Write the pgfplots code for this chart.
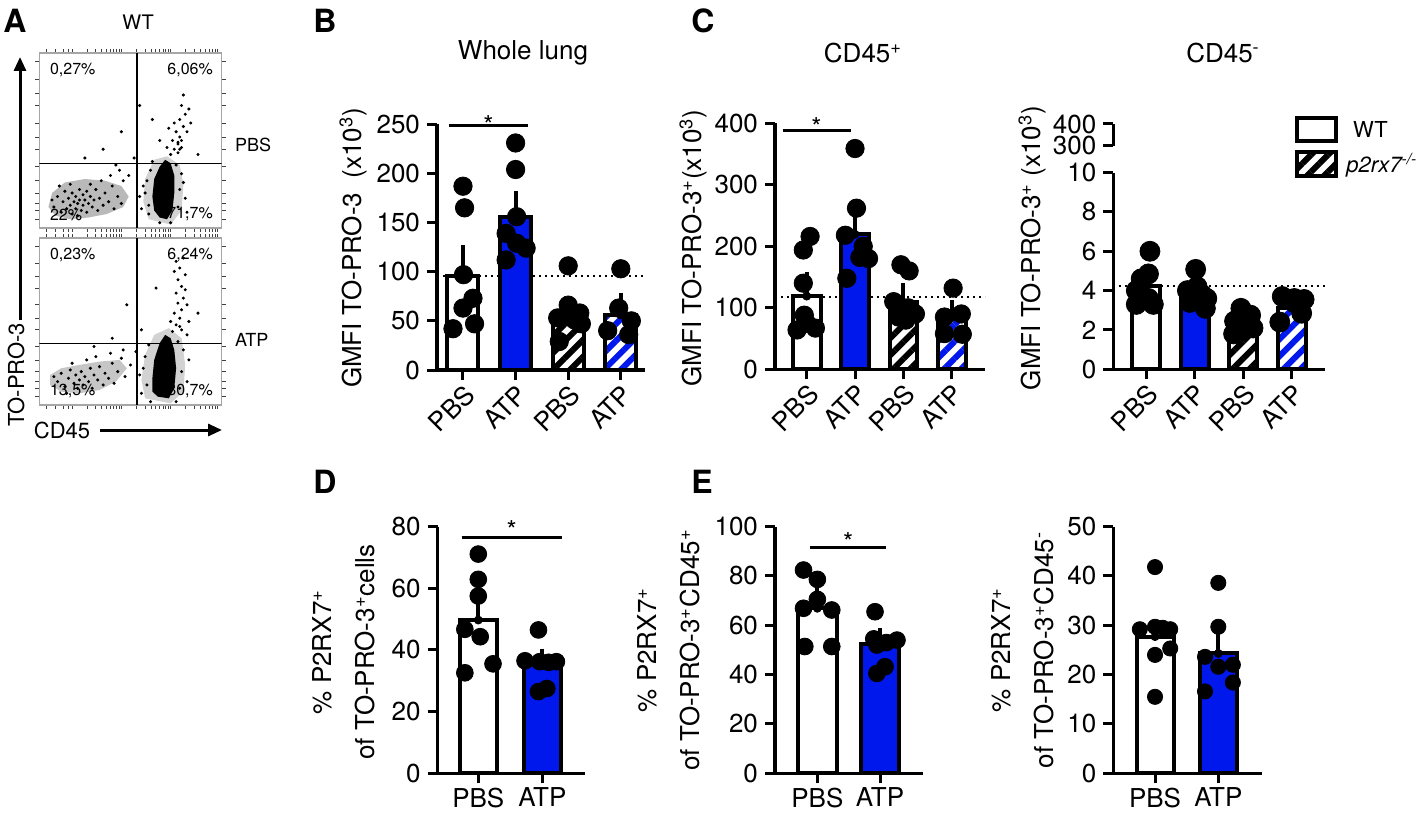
\documentclass[border=0pt]{standalone}
\usepackage{pgfplots}
\pgfplotsset{compat=1.18}
\usepackage{fontspec}
\setmainfont{TeX Gyre Heros}
\usetikzlibrary{patterns.meta,arrows.meta}
\definecolor{pblue}{RGB}{0,24,235}
\newcommand\tf{\fontsize{13}{15.6}\selectfont}
\newcommand\ff{\fontsize{8}{9}\selectfont}

\pgfplotsset{
  prism/.style={
    scale only axis, anchor=south west, clip=false,
    axis lines*=left, axis line style={line width=1.6pt, black},
    tick align=outside, major tick length=5pt,
    every tick/.style={line width=1.5pt, black},
    tick label style={font=\tf},
    /pgf/number format/assume math mode=true,
    ymin=0,
  },
  four/.style={xtick={0,1,2,3}, xticklabels={PBS,ATP,PBS,ATP},
    xticklabel style={rotate=45, anchor=north east, inner sep=1pt}},
  two/.style={xtick={0,1}, xticklabels={PBS,ATP},
    xticklabel style={anchor=north, inner sep=2pt}},
  wbar/.style={ybar, bar shift=0pt, draw=black, line width=2pt, fill=white},
  bbar/.style={ybar, bar shift=0pt, draw=black, line width=2pt, fill=pblue},
  hkbar/.style={ybar, bar shift=0pt, draw=black, line width=2pt, preaction={fill=white},
    pattern={Lines[angle=45,distance=6pt,line width=3pt]}, pattern color=black},
  hbbar/.style={ybar, bar shift=0pt, draw=black, line width=2pt, preaction={fill=white},
    pattern={Lines[angle=45,distance=6pt,line width=3pt]}, pattern color=pblue},
  eb/.style={black, only marks, mark=none, forget plot,
    error bars/.cd, y dir=plus, y explicit,
    error bar style={draw=black, line width=2pt},
    error mark options={draw=black, line width=2pt, mark size=4.5pt}},
  dots/.style={only marks, mark=*, mark options={fill=black, draw=black}},
  refl/.style={black, line width=0.9pt, dash pattern=on 0.9pt off 2.1pt},
  sig/.style={black, line width=1.5pt},
  flow/.style={scale only axis, anchor=south west, xmin=0, xmax=1, ymin=0, ymax=1,
    axis line style={gray!70, line width=0.6pt},
    xtick={0.04,0.09,0.13,0.16,0.18,0.261,0.309,0.343,0.369,0.39,0.408,0.424,0.438,0.45,0.531,0.579,0.613,0.639,0.66,0.678,0.694,0.708,0.72,0.801,0.849,0.883,0.909,0.93,0.948,0.964,0.978},
    ytick={0.05,0.1,0.14,0.2,0.27,0.35,0.45,0.52,0.6,0.7,0.77,0.85,0.95},
    xticklabels={}, yticklabels={}, tick align=outside, major tick length=2pt,
    every tick/.style={gray!50!black, line width=0.4pt}},
  fpts/.style={only marks, mark=*, mark size=0.55pt, black},
}

\begin{document}
\begin{tikzpicture}
\useasboundingbox (0,0) rectangle (708.5pt,410.5pt);

% ---------------- Panel A ----------------
\node[font=\bfseries\fontsize{16}{18}\selectfont] at (7.5pt,400pt) {A};
\node[font=\fontsize{10}{12}\selectfont] at (69pt,399.5pt) {WT};
\node[font=\fontsize{9}{11}\selectfont, anchor=west] at (114pt,338pt) {PBS};
\node[font=\fontsize{9}{11}\selectfont, anchor=west] at (114pt,240.5pt) {ATP};
\node[font=\fontsize{11}{13}\selectfont, rotate=90] at (8pt,223pt) {TO-PRO-3};
\draw[line width=1.5pt, -{Triangle[length=7pt,width=6pt]}] (10pt,250.5pt) -- (10pt,382pt);
\node[font=\fontsize{11}{13}\selectfont] at (31pt,195.5pt) {CD45};
\draw[line width=1.5pt, -{Triangle[length=7pt,width=6pt]}] (50pt,195.5pt) -- (111pt,195.5pt);

\begin{axis}[flow, at={(19.65pt,296.5pt)}, width=91.2pt, height=87.5pt]
\addplot[fill=gray!55, draw=none] coordinates {(0.05,0.12) (0.09,0.07) (0.17,0.05) (0.27,0.06) (0.37,0.08) (0.46,0.12) (0.49,0.18) (0.45,0.24) (0.36,0.27) (0.25,0.28) (0.14,0.26) (0.07,0.2)} -- cycle;
\addplot[fill=gray!35, draw=none] coordinates {(0.6,0.05) (0.72,0.02) (0.78,0.1) (0.79,0.25) (0.77,0.36) (0.7,0.41) (0.63,0.39) (0.58,0.28) (0.57,0.15)} -- cycle;
\addplot[fill=black, draw=none] coordinates {(0.66,0.06) (0.70,0.05) (0.73,0.10) (0.74,0.20) (0.74,0.30) (0.72,0.37) (0.69,0.39) (0.66,0.35) (0.63,0.28) (0.62,0.18) (0.63,0.10)} -- cycle;
\addplot[fpts] coordinates {(0.08,0.12) (0.10,0.18) (0.12,0.09) (0.13,0.15) (0.14,0.21) (0.15,0.11) (0.16,0.17) (0.17,0.13) (0.18,0.20) (0.18,0.08) (0.19,0.15) (0.20,0.18) (0.20,0.11) (0.21,0.14) (0.22,0.22) (0.22,0.16) (0.23,0.10) (0.24,0.19) (0.24,0.13) (0.25,0.16) (0.26,0.21) (0.26,0.09) (0.27,0.14) (0.28,0.18) (0.29,0.12) (0.30,0.16) (0.31,0.22) (0.32,0.10) (0.33,0.17) (0.35,0.13) (0.36,0.20) (0.38,0.15) (0.40,0.24) (0.41,0.11) (0.43,0.18) (0.45,0.14) (0.46,0.27) (0.11,0.24) (0.07,0.16) (0.28,0.25) (0.34,0.27) (0.21,0.07) (0.17,0.25) (0.39,0.30) (0.44,0.33)
(0.58,0.20) (0.59,0.27) (0.60,0.13) (0.77,0.22) (0.76,0.12) (0.78,0.31) (0.61,0.33) (0.75,0.36) (0.57,0.24) (0.66,0.03) (0.72,0.03) (0.80,0.17) (0.56,0.11) (0.79,0.26) (0.60,0.08) (0.55,0.18) (0.81,0.09) (0.62,0.38)
(0.72,0.42) (0.74,0.45) (0.76,0.48) (0.73,0.50) (0.77,0.52) (0.78,0.46) (0.75,0.55) (0.79,0.58) (0.77,0.62) (0.80,0.65) (0.74,0.60) (0.78,0.70) (0.76,0.43) (0.81,0.55) (0.70,0.46) (0.82,0.68) (0.66,0.50) (0.71,0.57) (0.79,0.76) (0.83,0.60) (0.76,0.49) (0.78,0.50) (0.77,0.45)
(0.45,0.55) (0.55,0.70) (0.35,0.45) (0.52,0.40) (0.25,0.40) (0.62,0.62) (0.49,0.30) (0.42,0.36) (0.87,0.42)};
\addplot[black, line width=0.7pt] coordinates {(0.535,0) (0.535,1)};
\addplot[black, line width=0.7pt] coordinates {(0,0.37) (1,0.37)};
\node[font=\ff, anchor=north west] at (rel axis cs:0.02,0.98) {0,27\%};
\node[font=\ff, anchor=north east] at (rel axis cs:0.99,0.98) {6,06\%};
\node[font=\ff, anchor=south west] at (rel axis cs:0.02,0.0) {22\%};
\node[font=\ff, anchor=south east] at (rel axis cs:0.99,0.0) {71,7\%};
\end{axis}

\begin{axis}[flow, at={(19.65pt,208pt)}, width=91.2pt, height=83.5pt]
\addplot[fill=gray!45, draw=none] coordinates {(0.06,0.12) (0.12,0.08) (0.22,0.07) (0.33,0.09) (0.42,0.14) (0.48,0.22) (0.44,0.27) (0.33,0.26) (0.22,0.24) (0.12,0.22) (0.06,0.18)} -- cycle;
\addplot[fill=gray!35, draw=none] coordinates {(0.58,0.04) (0.72,0.01) (0.79,0.08) (0.80,0.24) (0.78,0.40) (0.71,0.46) (0.63,0.42) (0.58,0.30) (0.56,0.15)} -- cycle;
\addplot[fill=black, draw=none] coordinates {(0.65,0.05) (0.71,0.04) (0.74,0.10) (0.75,0.22) (0.74,0.33) (0.72,0.40) (0.69,0.42) (0.66,0.37) (0.63,0.27) (0.62,0.16) (0.62,0.08)} -- cycle;
\addplot[fpts] coordinates {(0.10,0.14) (0.12,0.19) (0.14,0.11) (0.16,0.16) (0.17,0.21) (0.19,0.13) (0.20,0.18) (0.21,0.10) (0.22,0.15) (0.23,0.20) (0.24,0.12) (0.25,0.17) (0.27,0.14) (0.28,0.22) (0.29,0.10) (0.30,0.18) (0.32,0.15) (0.33,0.23) (0.35,0.12) (0.36,0.19) (0.38,0.16) (0.40,0.25) (0.41,0.13) (0.43,0.20) (0.45,0.28) (0.47,0.17) (0.08,0.17) (0.18,0.25) (0.26,0.27) (0.31,0.29) (0.39,0.31) (0.46,0.33) (0.15,0.07) (0.50,0.24)
(0.57,0.22) (0.58,0.29) (0.59,0.12) (0.78,0.20) (0.77,0.10) (0.79,0.33) (0.60,0.36) (0.76,0.38) (0.56,0.07) (0.81,0.14) (0.55,0.18) (0.82,0.27) (0.61,0.02) (0.75,0.02)
(0.73,0.44) (0.75,0.48) (0.77,0.52) (0.74,0.55) (0.78,0.57) (0.76,0.61) (0.79,0.64) (0.75,0.67) (0.78,0.71) (0.76,0.75) (0.80,0.78) (0.77,0.82) (0.75,0.86) (0.79,0.88) (0.81,0.60) (0.72,0.50) (0.80,0.69) (0.82,0.50) (0.74,0.80) (0.77,0.47) (0.81,0.42) (0.78,0.45)
(0.48,0.60) (0.56,0.45) (0.40,0.40) (0.53,0.32) (0.30,0.35) (0.64,0.70) (0.87,0.55)};
\addplot[black, line width=0.7pt] coordinates {(0.535,0) (0.535,1)};
\addplot[black, line width=0.7pt] coordinates {(0,0.37) (1,0.37)};
\node[font=\ff, anchor=north west] at (rel axis cs:0.02,0.98) {0,23\%};
\node[font=\ff, anchor=north east] at (rel axis cs:0.99,0.98) {6,24\%};
\node[font=\ff, anchor=south west] at (rel axis cs:0.02,0.0) {13,5\%};
\node[font=\ff, anchor=south east] at (rel axis cs:0.99,0.0) {80,7\%};
\end{axis}

% ---------------- Panel B ----------------
\node[font=\bfseries\fontsize{16}{18}\selectfont] at (162.5pt,400pt) {B};
\node[font=\tf] at (261.5pt,384pt) {Whole lung};
\node[font=\tf, rotate=90] at (176.5pt,286.5pt) {GMFI TO-PRO-3\ \ (x10\textsuperscript{3})};
\begin{axis}[prism, four, at={(218.5pt,225.5pt)}, width=104pt, height=122.85pt,
  xmin=-0.494, xmax=3.46, ymax=250, ytick={0,50,...,250}]
\addplot[refl] coordinates {(-0.494,95.7) (3.46,95.7)};
\addplot[wbar, bar width=15.5pt] coordinates {(0,95.7)};
\addplot[bbar, bar width=15.5pt] coordinates {(1,155.4)};
\addplot[hkbar, bar width=15.5pt] coordinates {(2,53)};
\addplot[hbbar, bar width=15.5pt] coordinates {(3,56)};
\addplot[eb] coordinates {(0,95.7) +- (0,22) (1,155.4) +- (0,17.6) (2,53) +- (0,9) (3,56) +- (0,13.5)};
\addplot[dots, mark size=4.6pt] coordinates {(0,187) (0.03,165) (0.01,97) (0.19,73) (0,63) (0.22,47) (-0.19,42)
 (1,231) (1,204) (1.02,156) (0.82,139) (1.02,129) (1.2,124) (0.82,112)
 (2,106) (2,66) (2.22,58) (1.8,53) (2.12,51) (2.25,47) (1.83,29)
 (3,103) (2.96,63) (3.2,50) (2.75,40) (3.15,36)};
\addplot[sig] coordinates {(-0.27,249) (1.24,249)};
\node[font=\tf, anchor=base, yshift=-4.5pt] at (axis cs:0.485,249) {*};
\end{axis}

% ---------------- Panel C ----------------
\node[font=\bfseries\fontsize{16}{18}\selectfont] at (351.5pt,400pt) {C};
\node[font=\tf] at (431.5pt,384pt) {CD45\textsuperscript{+}};
\node[font=\tf, rotate=90] at (346.5pt,286.5pt) {GMFI TO-PRO-3\textsuperscript{+}(x10\textsuperscript{3})};
\begin{axis}[prism, four, at={(387.5pt,225.85pt)}, width=105pt, height=123pt,
  xmin=-0.656, xmax=3.69, ymax=400, ytick={0,100,...,400}]
\addplot[refl] coordinates {(-0.656,118) (3.69,118)};
\addplot[wbar, bar width=13.85pt] coordinates {(0,119)};
\addplot[bbar, bar width=13.85pt] coordinates {(1,219.5)};
\addplot[hkbar, bar width=13.85pt] coordinates {(2,109)};
\addplot[hbbar, bar width=13.85pt] coordinates {(3,84)};
\addplot[eb] coordinates {(0,119) +- (0,25) (1,219.5) +- (0,27.5) (2,109) +- (0,16) (3,84) +- (0,13.6)};
\addplot[dots, mark size=4.6pt] coordinates {(0.07,216) (-0.07,194) (-0.07,140) (-0.05,88) (0.18,67) (-0.2,64) (0,75)
 (1,359) (1.03,262) (0.8,218) (1.17,200) (1.1,182) (1.28,180) (0.83,148)
 (1.95,170) (2.12,160) (1.8,110) (2.1,100) (2.25,90) (1.9,85) (2.05,80)
 (3.03,132) (3.2,90) (2.85,85) (2.85,58) (3.22,57)};
\addplot[sig] coordinates {(-0.5,389) (0.91,389)};
\node[font=\tf, anchor=base, yshift=-3pt] at (axis cs:0.2,389) {*};
\end{axis}

\node[font=\tf] at (611.5pt,384pt) {CD45\textsuperscript{-}};
\node[font=\tf, rotate=90] at (516pt,286.5pt) {GMFI TO-PRO-3\textsuperscript{+} (x10\textsuperscript{3})};
\begin{axis}[prism, at={(556.65pt,337.65pt)}, width=105.85pt, height=10.85pt,
  xmin=0, xmax=1, ymin=300, ymax=400, ytick={300,400}, axis x line=none, axis y line*=left]
\addplot[draw=none] coordinates {(0,350)};
\end{axis}
\begin{axis}[prism, four, at={(556.65pt,225.85pt)}, width=105.85pt, height=98.35pt,
  xmin=-0.673, xmax=3.68, ymax=10, ytick={0,2,...,10}]
\addplot[refl] coordinates {(-0.673,4.24) (3.68,4.24)};
\addplot[wbar, bar width=13.85pt] coordinates {(0,4.24)};
\addplot[bbar, bar width=13.85pt] coordinates {(1,3.92)};
\addplot[hkbar, bar width=13.85pt] coordinates {(2,2.34)};
\addplot[hbbar, bar width=13.85pt] coordinates {(3,3.1)};
\addplot[eb] coordinates {(0,4.24) +- (0,0.3) (1,3.92) +- (0,0.25) (2,2.34) +- (0,0.2) (3,3.1) +- (0,0.25)};
\addplot[dots, mark size=5pt] coordinates {(0.08,6.0) (0.05,4.85) (-0.1,4.6) (-0.2,4.0) (0.05,3.6) (-0.2,3.3) (0.15,3.3)
 (1.02,5.08) (1.05,4.2) (0.85,4.0) (1.15,3.8) (1.25,3.6) (0.9,3.4) (1.22,3.1)
 (1.95,3.1) (2.15,2.75) (1.82,2.45) (2.05,2.3) (2.2,2.1) (1.9,1.9) (1.8,1.8)
 (2.8,3.7) (3.05,3.6) (3.25,3.55) (3.2,2.85) (2.75,2.4)};
\end{axis}
% legend
\draw[line width=2pt, fill=white] (648.5pt,340pt) rectangle (668pt,351.5pt);
\draw[line width=2pt, preaction={fill=white}, pattern={Lines[angle=45,distance=6pt,line width=3pt]}, pattern color=black] (648.5pt,322.5pt) rectangle (668pt,334.5pt);
\node[font=\fontsize{11}{13}\selectfont, anchor=west] at (673pt,346pt) {WT};
\node[font=\fontsize{11}{13}\selectfont, anchor=west, inner sep=1pt] at (672pt,328pt) {\textit{p2rx7\textsuperscript{-/-}}};

% ---------------- Panel D ----------------
\node[font=\bfseries\fontsize{16}{18}\selectfont] at (162.5pt,169.5pt) {D};
\node[font=\fontsize{13}{21.5}\selectfont, rotate=90, align=center] at (171.65pt,84.5pt) {\% P2RX7\textsuperscript{+}\\of TO-PRO-3\textsuperscript{+}cells};
\begin{axis}[prism, two, at={(218.85pt,23.85pt)}, width=73.65pt, height=123.35pt,
  xmin=-0.634, xmax=1.667, ymax=80, ytick={0,20,...,80}]
\addplot[wbar, bar width=18.5pt] coordinates {(0,49.7)};
\addplot[bbar, bar width=18.5pt] coordinates {(1,35.5)};
\addplot[eb] coordinates {(0,49.7) +- (0,5.7) (1,35.5) +- (0,2)};
\addplot[dots, mark size=4.2pt] coordinates {(0,71.1) (0,62.9) (0,57.5) (-0.21,46.7) (0.03,44.3) (0.23,35.5) (-0.21,32.6)
 (0.94,46.5) (0.73,36.5) (0.96,36.2) (1.22,36.2) (1.1,36.0) (1.07,27.5) (0.94,26.5)};
\addplot[sig] coordinates {(-0.26,76.5) (1.30,76.5)};
\node[font=\tf, anchor=base, yshift=-1pt] at (axis cs:0.52,76.5) {*};
\end{axis}

% ---------------- Panel E ----------------
\node[font=\bfseries\fontsize{16}{18}\selectfont] at (351pt,169.5pt) {E};
\node[font=\fontsize{13}{21.5}\selectfont, rotate=90, align=center] at (334.15pt,85.5pt) {\% P2RX7\textsuperscript{+}\\of TO-PRO-3\textsuperscript{+}CD45\textsuperscript{+}};
\begin{axis}[prism, two, at={(387.5pt,23.85pt)}, width=74.15pt, height=123.35pt,
  xmin=-0.675, xmax=1.69, ymax=100, ytick={0,20,...,100}]
\addplot[wbar, bar width=19.35pt] coordinates {(0,66.9)};
\addplot[bbar, bar width=19.35pt] coordinates {(1,52.5)};
\addplot[eb] coordinates {(0,66.9) +- (0,4.7) (1,52.5) +- (0,2.8)};
\addplot[dots, mark size=4.2pt] coordinates {(-0.22,82.4) (0,78.6) (0,70.5) (-0.22,66.9) (0.23,66.2) (-0.2,51.4) (0.23,51.4)
 (0.92,65.5) (0.9,54.5) (1.27,54) (1.1,53) (0.95,52) (1.08,43.2) (0.95,40.5)};
\addplot[sig] coordinates {(-0.12,91.6) (1.10,91.6)};
\node[font=\tf, anchor=base, yshift=-2pt] at (axis cs:0.49,91.6) {*};
\end{axis}

\node[font=\fontsize{13}{21.5}\selectfont, rotate=90, align=center] at (511.25pt,85.5pt) {\% P2RX7\textsuperscript{+}\\of TO-PRO-3\textsuperscript{+}CD45\textsuperscript{-}};
\begin{axis}[prism, two, at={(556.65pt,23.85pt)}, width=74.2pt, height=123.35pt,
  xmin=-0.659, xmax=1.686, ymax=50, ytick={0,10,...,50}]
\addplot[wbar, bar width=18.5pt] coordinates {(0,27.7)};
\addplot[bbar, bar width=18.5pt] coordinates {(1,24.3)};
\addplot[eb] coordinates {(0,27.7) +- (0,1.5) (1,24.3) +- (0,2.7)};
\addplot[dots, mark size=3.8pt] coordinates {(0,41.8) (-0.24,29.2) (0,29.7) (0.12,29.5) (0.24,29.2) (0.24,25.3) (0,24) (0,15.5)
 (1,38.6) (1,29.7) (0.79,23.6) (1,21.6) (1.23,22) (1.23,18.4) (0.79,16.6)};
\end{axis}

\end{tikzpicture}
\end{document}
